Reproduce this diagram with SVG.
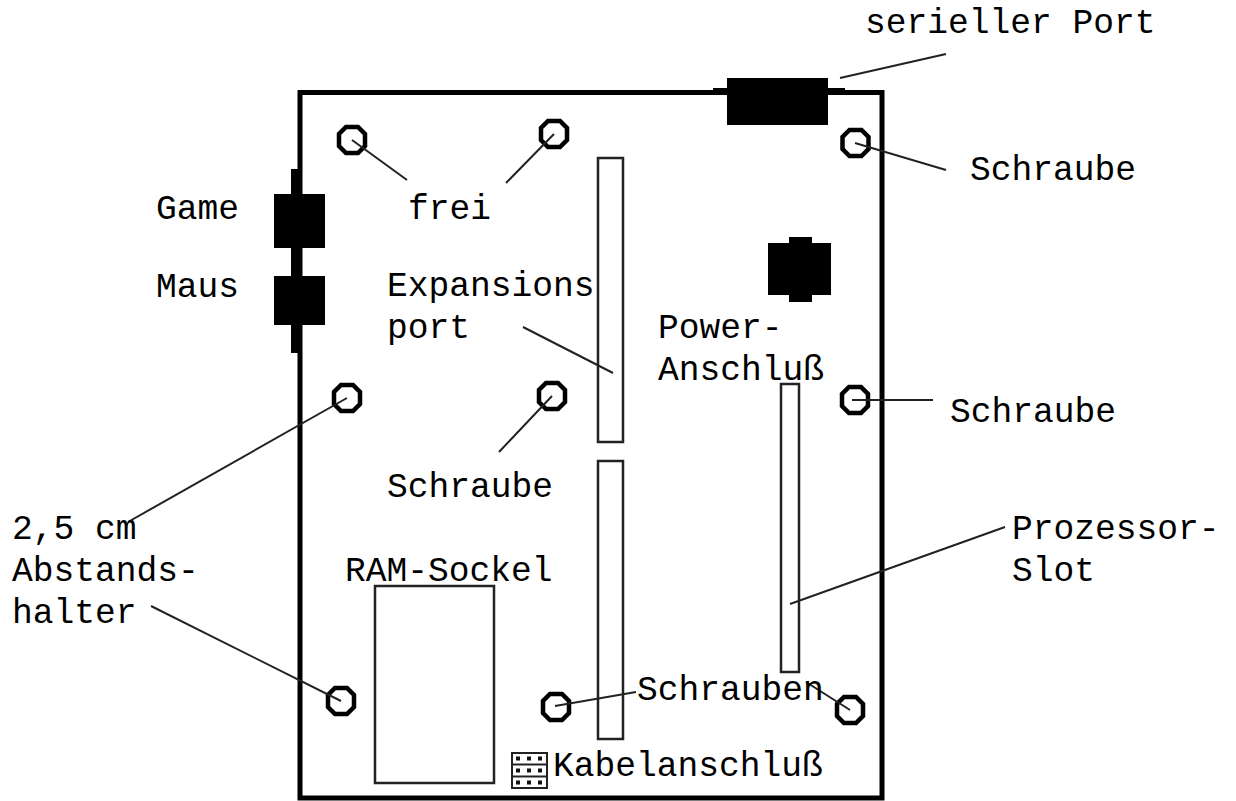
<svg xmlns="http://www.w3.org/2000/svg" width="1236" height="801" viewBox="0 0 1236 801">
<style>
.t{font-family:"Liberation Mono","DejaVu Sans Mono",monospace;font-size:34.6px;fill:#000}
.l{fill:none;stroke:#222;stroke-width:2}
.c{fill:#fff;stroke:#000;stroke-width:4.5}
.b{fill:#000}
.o{fill:#fff;stroke:#222;stroke-width:2.5}
</style>
<defs><path id="sc" d="M-6-13H6L13-6V6L6 13H-6L-13 6V-6Z" class="c"/></defs>
<rect width="1236" height="801" fill="#fff"/>
<g id="board"><rect x="300" y="92.500" width="582" height="705.500" fill="#fff" stroke="#000" stroke-width="5"/></g>
<g id="slots">
<rect id="slot-expansion" class="o" x="598" y="158" width="25" height="284"/>
<rect id="slot-lower" class="o" x="598" y="461" width="25" height="278"/>
<rect id="slot-cpu" class="o" x="781" y="384" width="18" height="288"/>
<rect id="ram" class="o" x="375" y="586" width="119" height="197"/>
</g>
<g id="port-game-mouse" class="b">
<rect x="291" y="169" width="11" height="184"/><rect x="274" y="194" width="51" height="54"/><rect x="274" y="276" width="51" height="49"/>
</g>
<g id="port-serial" class="b"><rect x="713" y="88" width="132" height="6"/><rect x="727" y="78" width="101" height="47"/></g>
<g id="port-power" class="b"><rect x="768" y="243" width="63" height="52"/><rect x="789" y="237" width="23" height="65"/></g>
<g id="screws">
<use href="#sc" x="352" y="140"/><use href="#sc" x="554" y="134"/><use href="#sc" x="855.500" y="143"/>
<use href="#sc" x="347" y="398"/><use href="#sc" x="552" y="396"/><use href="#sc" x="855" y="400"/>
<use href="#sc" x="341" y="701"/><use href="#sc" x="556" y="707"/><use href="#sc" x="850" y="710"/>
</g>
<g id="connectors" class="l">
<path d="M352 140L407 180"/><path d="M554 134L506 183"/><path d="M855 143L946 170"/>
<path d="M852 400H933"/><path d="M552 396L499 452"/><path d="M347 398L128 522"/>
<path d="M341 701L151 606"/><path d="M555 706L636 692"/><path d="M850 710L806 682"/>
<path d="M523 327L613 373"/><path d="M790 604L1005 527"/><path d="M840 78L946 54"/>
</g>
<g id="cable-port">
<rect x="512" y="753" width="35" height="35" fill="#fff" stroke="#222" stroke-width="2"/>
<path d="M512 764.500H547M512 776.500H547" stroke="#222" stroke-width="2"/>
<path d="M516 758.500H544M516 770.500H544M516 782.500H544" stroke="#111" stroke-width="4" stroke-dasharray="4 7"/>
</g>
<g id="labels" class="t">
<text x="865" y="33">serieller Port</text>
<text x="970" y="180">Schraube</text>
<text x="156" y="219">Game</text>
<text x="408" y="219">frei</text>
<text x="156" y="297">Maus</text>
<text x="387" y="296">Expansions</text>
<text x="387" y="338">port</text>
<text x="658" y="338">Power-</text>
<text x="658" y="380">Anschluß</text>
<text x="950" y="422">Schraube</text>
<text x="387" y="497">Schraube</text>
<text x="1012" y="539">Prozessor-</text>
<text x="12" y="539">2,5 cm</text>
<text x="12" y="581">Abstands-</text>
<text x="345" y="581">RAM-Sockel</text>
<text x="1012" y="581">Slot</text>
<text x="12" y="623">halter</text>
<text x="637" y="700">Schrauben</text>
<text x="553" y="776">Kabelanschluß</text>
</g>
</svg>
